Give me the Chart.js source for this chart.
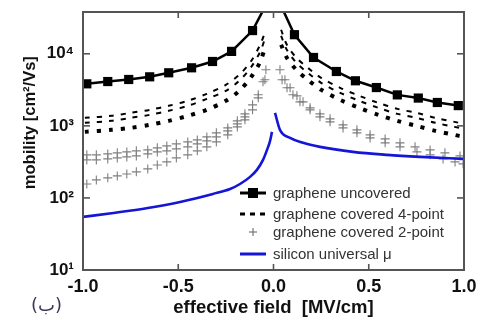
<!DOCTYPE html>
<html><head><meta charset="utf-8">
<script src="https://cdn.jsdelivr.net/npm/chart.js@4.4.0/dist/chart.umd.min.js"></script>
<style>html,body{margin:0;padding:0;background:#fff;overflow:hidden}</style>
</head><body>
<canvas id="c" width="481" height="325"></canvas>
<script>
// ---------- data ----------
const xTickVals = [-1, -0.5, 0, 0.5, 1];
const yTickVals = [10, 100, 1000, 10000];
const yTickLabels = ['10\u00B9', '10\u00B2', '10\u00B3', '10\u2074'];

// graphene uncovered (squares)
const uncX = [-0.98,-0.87,-0.76,-0.65,-0.55,-0.43,-0.32,-0.22,-0.11,-0.02, 0.02,0.11,0.21,0.33,0.43,0.54,0.65,0.76,0.86,0.97];
const uncY = [3830,4120,4400,4790,5450,6390,7820,10800,21000,60000, 60000,18400,8890,5680,4220,3400,2690,2430,2110,1910];

// graphene covered 4-point (three dashed curves)
const fp4XLeft  = [-0.99,-0.85,-0.75,-0.65,-0.55,-0.45,-0.35,-0.25,-0.18,-0.12,-0.07,-0.04];
const fp4XRight = [0.04,0.07,0.12,0.18,0.25,0.35,0.45,0.55,0.65,0.75,0.85,0.95,1.0];
const fp4ALeft  = [1291,1377,1517,1668,1896,2225,2783,3708,5108,7743,13335,21544];
const fp4ARight = [21544,13335,8799,6390,4642,3372,2610,2086,1722,1517,1291,1136,1067];
const fp4BLeft  = [1101,1173,1291,1423,1616,1896,2371,3062,4217,6390,10660,17783];
const fp4BRight = [17783,11365,7499,5451,3955,2872,2225,1778,1468,1291,1101,968,908];
const fp4CLeft  = [825,880,937,1033,1173,1377,1668,2225,3062,4642,7743,13335];
const fp4CRight = [13335,8799,5995,4354,3162,2297,1778,1423,1173,1000,852,750,703];

// graphene covered 2-point (crosses)
const fp2PX = [-0.98,-0.93,-0.87,-0.82,-0.77,-0.72,-0.66,-0.61,-0.56,-0.51,-0.45,-0.40,-0.35,-0.30,-0.24,-0.19,-0.15,-0.11,-0.08,-0.055,-0.04];
const fp2PY = [396,396,408,422,435,450,464,495,527,562,599,639,703,800,937,1173,1468,1957,2697,4084,5995];
const fp2QX = [-0.98,-0.93,-0.87,-0.82,-0.77,-0.72,-0.66,-0.61,-0.56,-0.51,-0.45,-0.40,-0.35,-0.30,-0.24,-0.19,-0.15];
const fp2QY = [337,337,348,359,371,383,408,435,450,479,511,562,619,703,852,1067,1334];
const fp2RX = [-0.98,-0.93,-0.87,-0.82,-0.77,-0.72,-0.66,-0.61,-0.56,-0.51,-0.45,-0.40,-0.35,-0.30,-0.24,-0.19,-0.15,-0.11,-0.08,-0.045];
const fp2RY = [156,178,190,202,215,230,253,287,316,359,396,450,511,599,750,968,1212,1668,2448,4354];
const fp2SX = [0.034,0.060,0.087,0.123,0.155,0.192,0.244,0.297,0.365,0.438,0.507,0.586,0.664,0.743,0.822,0.900,0.979];
const fp2SY = [5995,4354,3372,2610,2154,1778,1468,1250,1033,880,750,659,581,511,464,422,383];
const fp2TX = [0.045,0.071,0.102,0.139,0.192,0.244,0.297,0.365,0.438,0.507,0.586,0.664,0.753,0.822,0.890,0.953,0.995];
const fp2TY = [4354,3372,2697,2154,1668,1334,1136,937,800,681,581,511,435,396,348,316,297];

// silicon universal mobility (blue)
const siXLeft  = [-1.0,-0.84,-0.66,-0.49,-0.318,-0.228,-0.176,-0.123,-0.087,-0.055,-0.034,-0.018,-0.008];
const siYLeft  = [54.5,61.9,72.6,88,113.6,133,156,196,245,337,464,619,825];
const siXRight = [0.008,0.034,0.087,0.155,0.244,0.417,0.596,0.769,1.0];
const siYRight = [1517,880,681,581,511,436,396,371,348];

// ---------- helpers ----------
const pts = (xs, ys) => xs.map((x, i) => ({x, y: ys[i]}));
const split = (xl, yl, xr, yr) => pts(xl, yl).concat([{x: 0, y: null}], pts(xr, yr));
const Y_MAX = 38000;
const FONT = '"Liberation Sans", Arial, sans-serif';

const frameLegend = {
  id: 'frameLegend',
  afterDatasetsDraw(chart) {
    const {ctx, chartArea: a, scales: {x, y}} = chart;
    ctx.save();
    ctx.strokeStyle = '#555';
    ctx.lineWidth = 2;
    ctx.strokeRect(a.left, a.top, a.right - a.left, a.bottom - a.top);
    ctx.lineWidth = 1.6;
    const seg = (x1, y1, x2, y2) => { ctx.beginPath(); ctx.moveTo(x1, y1); ctx.lineTo(x2, y2); ctx.stroke(); };
    xTickVals.forEach(v => { const p = x.getPixelForValue(v); seg(p, a.bottom, p, a.bottom - 6); seg(p, a.top, p, a.top + 6); });
    yTickVals.forEach(v => { const p = y.getPixelForValue(v); seg(a.left, p, a.left + 7, p); seg(a.right, p, a.right - 7, p); });

    // legend
    const lx0 = a.left + 157, lx1 = a.left + 183, tx = a.left + 190;
    const rows = [a.top + 181, a.top + 202, a.top + 220, a.top + 242];
    ctx.lineCap = 'butt';
    ctx.strokeStyle = '#000'; ctx.lineWidth = 3;
    seg(lx0, rows[0], lx1, rows[0]);
    ctx.fillStyle = '#000';
    ctx.fillRect((lx0 + lx1) / 2 - 5, rows[0] - 5, 10, 10);
    ctx.setLineDash([5, 5]); ctx.lineWidth = 3;
    seg(lx0, rows[1], lx1 + 2, rows[1]);
    ctx.setLineDash([]);
    ctx.strokeStyle = '#777'; ctx.lineWidth = 1.2;
    const cx = (lx0 + lx1) / 2;
    seg(cx - 4, rows[2], cx + 4, rows[2]); seg(cx, rows[2] - 4, cx, rows[2] + 4);
    ctx.strokeStyle = '#1515d8'; ctx.lineWidth = 3;
    seg(lx0, rows[3], lx1, rows[3]);

    ctx.fillStyle = '#333';
    ctx.font = '15px ' + FONT;
    ctx.textBaseline = 'middle';
    ctx.textAlign = 'left';
    ['graphene uncovered', 'graphene covered 4-point', 'graphene covered 2-point', 'silicon universal \u03BC']
      .forEach((t, i) => ctx.fillText(t, tx, rows[i] + 1));

    // panel label
    ctx.fillStyle = '#3a3a58';
    ctx.font = '18px "DejaVu Sans", sans-serif';
    ctx.fillText('(\u0628)', 31, 306);
    ctx.restore();
  }
};

new Chart(document.getElementById('c'), {
  type: 'line',
  data: {
    datasets: [
      { label: 'silicon universal \u03BC', data: split(siXLeft, siYLeft, siXRight, siYRight),
        borderColor: '#1515d8', borderWidth: 2.6, pointRadius: 0, spanGaps: false, cubicInterpolationMode: 'monotone' },
      { label: 'graphene covered 2-point', data: pts(fp2PX, fp2PY), showLine: false,
        pointStyle: 'cross', pointRadius: 4.5, borderColor: '#808080', borderWidth: 1.1 },
      { label: '2-point Q', data: pts(fp2QX, fp2QY), showLine: false,
        pointStyle: 'cross', pointRadius: 4.5, borderColor: '#808080', borderWidth: 1.1 },
      { label: '2-point R', data: pts(fp2RX, fp2RY), showLine: false,
        pointStyle: 'cross', pointRadius: 4.5, borderColor: '#808080', borderWidth: 1.1 },
      { label: '2-point S', data: pts(fp2SX, fp2SY), showLine: false,
        pointStyle: 'cross', pointRadius: 4.5, borderColor: '#808080', borderWidth: 1.1 },
      { label: '2-point T', data: pts(fp2TX, fp2TY), showLine: false,
        pointStyle: 'cross', pointRadius: 4.5, borderColor: '#808080', borderWidth: 1.1 },
      { label: 'graphene covered 4-point', data: split(fp4XLeft, fp4ALeft, fp4XRight, fp4ARight),
        borderColor: '#000', borderWidth: 2, borderDash: [5, 7], pointRadius: 0, spanGaps: false, tension: 0.3 },
      { label: '4-point B', data: split(fp4XLeft, fp4BLeft, fp4XRight, fp4BRight),
        borderColor: '#000', borderWidth: 2, borderDash: [5, 7], pointRadius: 0, spanGaps: false, tension: 0.3 },
      { label: '4-point C', data: split(fp4XLeft, fp4CLeft, fp4XRight, fp4CRight),
        borderColor: '#000', borderWidth: 4, borderDash: [4, 8], pointRadius: 0, spanGaps: false, tension: 0.3 },
      { label: 'graphene uncovered', data: pts(uncX, uncY),
        borderColor: '#000', backgroundColor: '#000', borderWidth: 2.5,
        pointStyle: 'rect', pointRadius: c => (c.raw && c.raw.y > Y_MAX ? 0 : 6.5), pointBorderWidth: 0 }
    ]
  },
  options: {
    responsive: false,
    animation: false,
    devicePixelRatio: 1,
    layout: { padding: { top: 12, right: 17, left: 0, bottom: 0 } },
    plugins: { legend: { display: false }, tooltip: { enabled: false } },
    scales: {
      x: {
        type: 'linear', position: 'bottom', min: -1, max: 1,
        afterBuildTicks: s => { s.ticks = xTickVals.map(v => ({value: v})); },
        afterFit: s => { s.height = 55; s.paddingLeft = 0; s.paddingRight = 0; },
        ticks: { callback: v => v.toFixed(1), color: '#111', padding: 6, maxRotation: 0,
                 font: { family: FONT, size: 18, weight: 'bold' } },
        grid: { display: false, drawTicks: false },
        border: { display: false },
        title: { display: true, text: 'effective field  [MV/cm]', color: '#111',
                 font: { family: FONT, size: 18.5, weight: 'bold' }, padding: { top: 0, bottom: 6 } }
      },
      y: {
        type: 'logarithmic', min: 10, max: Y_MAX,
        afterBuildTicks: s => { s.ticks = yTickVals.map(v => ({value: v})); },
        afterFit: s => { s.width = 83; s.paddingTop = 0; s.paddingBottom = 0; },
        ticks: { callback: (v) => yTickLabels[yTickVals.indexOf(v)] || '', color: '#111', padding: 9,
                 font: { family: FONT, size: 17, weight: 'bold' } },
        grid: { display: false, drawTicks: false },
        border: { display: false },
        title: { display: true, text: '        mobility [cm\u00B2/Vs]', color: '#111',
                 font: { family: FONT, size: 16.5, weight: 'bold' }, padding: { top: 21, bottom: 0 } }
      }
    }
  },
  plugins: [frameLegend]
});
</script>
</body></html>
